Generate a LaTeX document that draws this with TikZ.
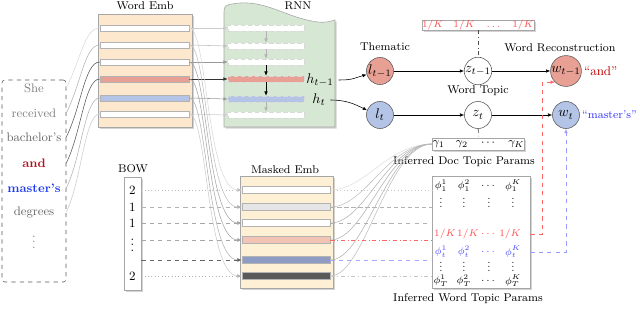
\documentclass[tikz,border=0pt]{standalone}
\usepackage{amsmath,amssymb}
\usepackage{tikz}
\usetikzlibrary{
  arrows.meta,
  positioning,
  shadows
}

\definecolor{embfill}{RGB}{253,232,205}
\definecolor{maskfill}{RGB}{253,240,212}
\definecolor{rnnfill}{RGB}{214,232,212}
\definecolor{redbar}{RGB}{232,160,148}
\definecolor{bluebar}{RGB}{180,196,230}
\definecolor{steelbar}{RGB}{142,156,196}
\definecolor{pinkbar}{RGB}{242,196,180}
\definecolor{wordred}{RGB}{176,20,30}
\definecolor{wordblue}{RGB}{30,60,240}

\newcommand{\vdotsmall}{\vbox{\baselineskip2.6pt\lineskiplimit0pt\hbox{.}\hbox{.}\hbox{.}}}

\tikzset{
  panel/.style={draw=gray!70, drop shadow={shadow xshift=1.2pt, shadow yshift=-1.2pt, opacity=0.35}},
  bar/.style={draw=gray!60, inner sep=0pt, minimum height=0.15cm},
  varnode/.style={circle, draw=gray!70!black, minimum size=0.675cm, inner sep=0pt},
  lbl/.style={font=\footnotesize},
  word/.style={font=\fontsize{8.8}{10}\selectfont},
  boldword/.style={font=\fontsize{8.8}{10}\selectfont\bfseries},
  ent/.style={font=\scriptsize, inner sep=0.5pt},
  vdot/.style={font=\scriptsize, inner sep=0pt},
  flow/.style={-{Latex[length=3pt,width=2.5pt]}}
}

\begin{document}
\begin{tikzpicture}[x=0.025cm, y=-0.025cm]
\useasboundingbox (0,0) rectangle (640,321);

\node[draw=gray!70!black, dashed, rounded corners=2pt, minimum width=1.6cm, minimum height=5.05cm] (sent) at (34,181) {};
\node[word, text=gray] (s1) at (34,88) {She};
\node[word, text=gray] (s2) at (34,113) {received};
\node[word, text=gray!80!black] (s3) at (34,137) {bachelor’s};
\node[boldword, text=wordred] (s4) at (34,163) {and};
\node[boldword, text=wordblue] (s5) at (34,188) {master’s};
\node[word, text=gray!80!black] (s6) at (34,212) {degrees};
\node[word, text=gray] (s7) at (34,238) {$\vdots$};

\node[panel, fill=embfill, minimum width=2.35cm, minimum height=2.825cm] (wemb) at (145,70.5) {};
\node[lbl] (wemblbl) at (145,6) {Word Emb};
\foreach \i/\y/\c in {1/28/white,2/45/white,3/62/white,4/79/redbar,5/98/bluebar,6/114/white}
  \node[bar, fill=\c, minimum width=2.225cm] (e\i) at (144.5,\y) {};

\path[panel, fill=rnnfill] (224,127) -- (224,12) .. controls (224,6) and (226,5) .. (232,4)
  .. controls (265,-2) and (285,18) .. (318,22) .. controls (326,23) and (331,21) .. (335,20)
  -- (335,127) -- cycle;
\node[lbl] (rnnlbl) at (298,6) {RNN};
\foreach \i/\y/\c in {1/28/white,2/46/white,3/62/white,4/79/redbar,5/99/bluebar,6/115/white}
  \node[bar, draw=gray!30, densely dashed, fill=\c, minimum width=1.9cm] (r\i) at (266,\y) {};
\foreach \a/\b/\c in {1/2/gray!60,2/3/gray!60,3/4/black,4/5/black,5/6/gray!60}
  \draw[flow,\c] (r\a) -- (r\b);
\node (hprev) at (320,80) {$h_{t-1}$};
\node (hcur) at (319,100) {$h_t$};

\foreach \i/\c in {1/gray!30,2/gray!60,3/gray!70!black,4/gray!70!black,5/gray!60,6/gray!40}
  \draw[\c] (s\i.east -| sent.east) .. controls +(15,-30) and +(-15,0) .. (e\i.west);
\foreach \i/\c in {1/gray!40,2/gray!50,3/gray!80,4/black!80,5/gray!80,6/gray!40}
  \draw[flow,\c] (e\i.east) -- (r\i.west);

\node[panel, fill=white, minimum width=0.425cm, minimum height=2.825cm] (bow) at (132.5,233.5) {};
\node[lbl] (bowlbl) at (133,169) {BOW};
\node[font=\small] (b1) at (132.5,190) {2};
\node[font=\small] (b2) at (132.5,207) {1};
\node[font=\small] (b3) at (132.5,223) {1};
\node[font=\small] (b4) at (132.5,241) {$\vdots$};
\node[font=\small] (b6) at (132.5,276) {2};

\node[panel, fill=maskfill, minimum width=2.325cm, minimum height=2.8cm] (memb) at (286.5,232) {};
\node[lbl] (memblbl) at (285,170) {Masked Emb};
\foreach \i/\y/\c in {1/190/white,2/207/gray!20,3/223/white,4/240/pinkbar,5/260/steelbar,6/276/black!65}
  \node[bar, fill=\c, minimum width=2.2cm, minimum height=0.175cm] (m\i) at (286,\y) {};

\foreach \i/\c in {1/gray!30,2/gray!50,3/gray!70,4/gray!70,5/gray!60,6/gray!40}
  \draw[flow,\c] (e\i.east) .. controls +(18,0) and +(-35,0) .. (m\i.west);

\draw[flow, gray!50, dotted] (m1.west -| bow.east) -- (m1.west);
\draw[flow, gray!60, dashed] (m2.west -| bow.east) -- (m2.west);
\draw[flow, gray!70, dashed] (m3.west -| bow.east) -- (m3.west);
\draw[flow, gray!70, dashed] (m4.west -| bow.east) -- (m4.west);
\draw[flow, gray!80!black, dashed] (m5.west -| bow.east) -- (m5.west);
\draw[flow, gray!60, dotted] (m6.west -| bow.east) -- (m6.west);

\node[varnode, fill=redbar] (ltp) at (380,71) {$l_{t-1}$};
\node[varnode, fill=bluebar] (lt) at (380,115) {$l_t$};
\node[lbl] (thematic) at (385,47) {Thematic};
\draw[flow] (hprev.east) .. controls +(14,0) and +(-14,4) .. (ltp.195);
\draw[flow] (hcur.east) .. controls +(16,0) and +(-12,-6) .. (lt.160);

\node[panel, fill=white, minimum width=2.25cm, minimum height=0.25cm, inner sep=0pt, text=red!70, font=\scriptsize] (unif) at (478,25) {$1/K\quad 1/K\quad \dots\quad 1/K$};
\node[varnode, fill=white] (ztp) at (478,71) {$z_{t-1}$};
\node[varnode, fill=white] (zt) at (478,115) {$z_t$};
\node[lbl] (wtopic) at (478,91) {Word Topic};
\node[panel, fill=white, minimum width=2.3cm, minimum height=0.3cm, inner sep=0pt, font=\footnotesize] (gam) at (478.5,144) {$\gamma_1\quad \gamma_2\quad \cdots\quad \gamma_K$};
\node[lbl] (docp) at (464,162) {Inferred Doc Topic Params};
\draw[gray!60!black, dash dot] (unif) -- (ztp);
\draw[gray!60!black, dash dot] (zt) -- (gam);

\node[varnode, fill=redbar] (wtp) at (566,71) {$w_{t-1}$};
\node[varnode, fill=bluebar] (wt) at (566,115) {$w_t$};
\node[lbl] (wrec) at (560,48) {Word Reconstruction};
\node[right=0pt of wtp, inner sep=1.5pt, text=red!75!black, font=\small] (andq) {“and”};
\node[right=0pt of wt, inner sep=1.5pt, text=blue!80, font=\footnotesize] (masq) {“master’s”};

\draw[flow] (ltp) -- (ztp);
\draw[flow] (ztp) -- (wtp);
\draw[flow] (lt) -- (zt);
\draw[flow] (zt) -- (wt);

\foreach \i/\c in {1/gray!25,2/gray!50,3/gray!60,4/gray!60,5/gray!60,6/gray!50}
  \draw[\c] (m\i.east) .. controls +(35,0) and +(-45,0) .. (gam.west);

\node[panel, fill=white, minimum width=2.45cm, minimum height=2.8cm] (phi) at (481,232) {};
\node[lbl] (wordp) at (468,299) {Inferred Word Topic Params};
\foreach \x/\k in {441/a,464/b,489/c,513/d} {
  \node[vdot] (p2\k) at (\x,203) {\vdotsmall};
  \node[vdot] (p5\k) at (\x,267) {\vdotsmall};
}
\node[ent] (p1a) at (441,186) {$\phi_1^1$};
\node[ent] (p1b) at (464,186) {$\phi_1^2$};
\node[ent] (p1c) at (489,186) {$\dots$};
\node[ent] (p1d) at (513,186) {$\phi_1^K$};
\node[ent, text=red!70] (p3a) at (445,234) {$1/K$};
\node[ent, text=red!70] (p3b) at (468,234) {$1/K$};
\node[ent, text=red!70] (p3c) at (489,234) {$\dots$};
\node[ent, text=red!70] (p3d) at (510,234) {$1/K$};
\node[ent, text=blue!70] (p4a) at (441,252) {$\phi_t^1$};
\node[ent, text=blue!70] (p4b) at (464,252) {$\phi_t^2$};
\node[ent, text=blue!70] (p4c) at (489,252) {$\dots$};
\node[ent, text=blue!70] (p4d) at (513,252) {$\phi_t^K$};
\node[ent] (p6a) at (441,281) {$\phi_T^1$};
\node[ent] (p6b) at (464,281) {$\phi_T^2$};
\node[ent] (p6c) at (489,281) {$\dots$};
\node[ent] (p6d) at (513,281) {$\phi_T^K$};

\draw[gray!45, dotted] (m1.east) -- (m1.east -| phi.west);
\draw[gray!60, densely dashed] (m2.east) -- (m2.east -| phi.west);
\draw[gray!60, dashed] (m3.east) -- (m3.east -| phi.west);
\draw[red!60, dash dot] (m4.east) -- (m4.east -| phi.west);
\draw[blue!35, dashed] (m5.east) -- (m5.east -| phi.west);
\draw[gray!45, dash dot] (m6.east) -- (m6.east -| phi.west);

\draw[flow, red!60, dashed] (p3d.east -| phi.east) -- ++(12,0) |- (wtp.south west);
\draw[flow, blue!40, dashed] (p4d.east -| phi.east) -| (wt.south);
\end{tikzpicture}
\end{document}
